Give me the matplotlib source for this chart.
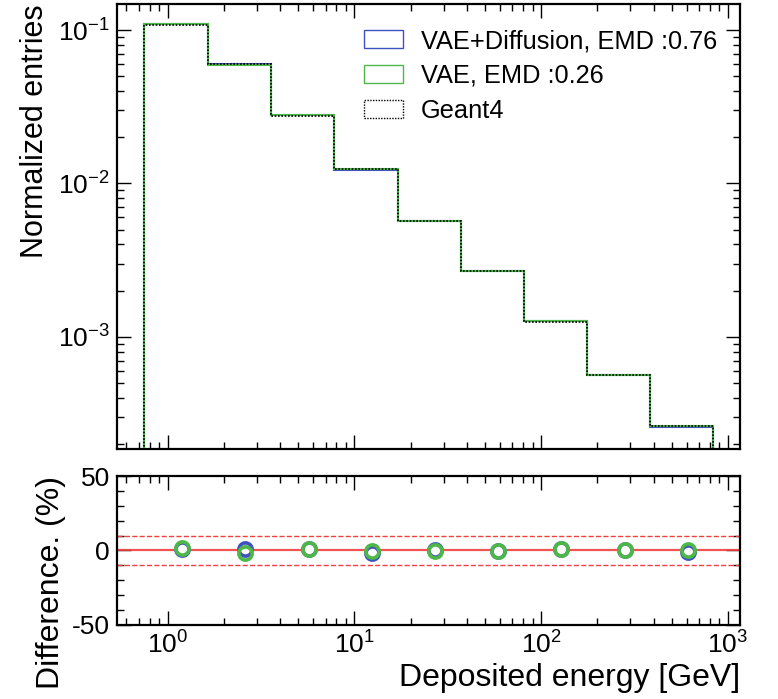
import numpy as np
import matplotlib
matplotlib.use("Agg")
import matplotlib.pyplot as plt
from matplotlib.ticker import LogLocator, MultipleLocator, NullFormatter
from matplotlib.patches import Patch

plt.rcParams['font.family'] = ['Liberation Sans', 'DejaVu Sans']
plt.rcParams['mathtext.fontset'] = 'custom'
plt.rcParams['mathtext.rm'] = 'Liberation Sans'
plt.rcParams['mathtext.default'] = 'regular'
plt.rcParams['axes.unicode_minus'] = False

# bin edges [GeV] and normalized Geant4 histogram
edges = [0.75, 1.64, 3.57, 7.78, 17.0, 37.0, 80.6, 176, 383, 835]
geant4 = [0.108, 0.060, 0.0275, 0.0125, 0.0057, 0.0027, 0.00125, 0.00056, 0.00026]

# difference to Geant4 in percent, per bin
diff_vae_diff = [0.8, 0.8, 1.3, -1.6, 0.0, -0.1, 0.9, 0.0, -0.9]
diff_vae = [1.8, -1.6, 1.3, -0.4, -0.2, -0.2, 0.9, 0.0, 0.2]

labels = ["VAE+Diffusion, EMD :0.76", "VAE, EMD :0.26", "Geant4"]
blue = "#3f51c0"
green = "#4db848"

edges = np.array(edges)
geant4 = np.array(geant4)
h_vd = geant4 * (1 + np.array(diff_vae_diff) / 100)
h_v = geant4 * (1 + np.array(diff_vae) / 100)
centers = (edges[:-1] + edges[1:]) / 2

fig = plt.figure(figsize=(7.78, 6.99), dpi=100)
ax = fig.add_axes([0.150, 0.358, 0.801, 0.636])
rax = fig.add_axes([0.150, 0.106, 0.801, 0.213])

ax.stairs(h_vd, edges, baseline=1e-6, color=blue, lw=1.5)
ax.stairs(h_v, edges, baseline=1e-6, color=green, lw=1.5)
ax.stairs(geant4, edges, baseline=1e-6, color="black", lw=1.2, ls=(0, (1, 1)))

ax.set_xscale("log")
ax.set_yscale("log")
ax.set_xlim(0.533, 1158)
ax.set_ylim(1.86e-4, 0.1476)
ax.set_ylabel("Normalized entries", fontsize=22, loc="top", labelpad=6)
ax.xaxis.set_major_formatter(NullFormatter())
ax.xaxis.set_minor_formatter(NullFormatter())

handles = [Patch(facecolor="none", edgecolor=blue, lw=1),
           Patch(facecolor="none", edgecolor=green, lw=1),
           Patch(facecolor="none", edgecolor="black", lw=1, ls=(0, (1, 1)))]
ax.legend(handles, labels, loc="upper right", frameon=False, fontsize=18.3,
          handlelength=1.55, handleheight=0.72, labelspacing=0.42,
          handletextpad=0.7, bbox_to_anchor=(1.0, 0.995))

rax.axhline(0, color="#f04040", lw=1.6, alpha=0.9)
rax.axhline(10, color="#f04040", lw=1.0, ls="--")
rax.axhline(-10, color="#f04040", lw=1.0, ls="--")
rax.plot(centers, diff_vae_diff, "o", ms=9.5, mfc="white", mec=blue, mew=2.6)
rax.plot(centers, diff_vae, "o", ms=9.5, mfc="none", mec=green, mew=2.6)

rax.set_xscale("log")
rax.set_xlim(0.533, 1158)
rax.set_ylim(-50, 50)
rax.yaxis.set_major_locator(MultipleLocator(50))
rax.yaxis.set_minor_locator(MultipleLocator(10))
rax.set_xlabel("Deposited energy [GeV]", fontsize=23, loc="right", labelpad=3)
rax.set_ylabel("Difference. (%)", fontsize=23, loc="top")

for a in (ax, rax):
    a.xaxis.set_major_locator(LogLocator(base=10, numticks=10))
    a.xaxis.set_minor_locator(LogLocator(base=10, subs=np.arange(2, 10), numticks=10))
    a.tick_params(which="both", direction="in", top=True, right=True, labelsize=19)
    a.tick_params(which="major", length=10, width=1.0, pad=5)
    a.tick_params(which="minor", length=5, width=1.0)
    for s in a.spines.values():
        s.set_linewidth(1.6)
ax.yaxis.set_minor_formatter(NullFormatter())

fig.savefig("out.png", dpi=100)
